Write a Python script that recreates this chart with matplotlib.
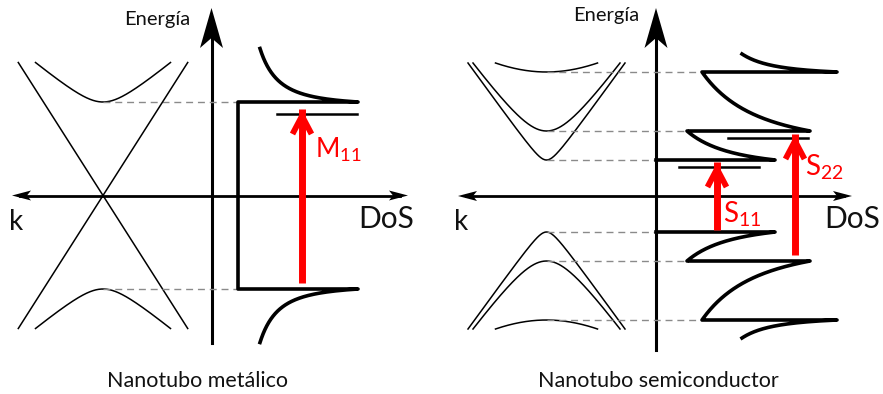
import numpy as np
import matplotlib.pyplot as plt

plt.rcParams['font.family'] = ['Lato', 'DejaVu Sans']
plt.rcParams['mathtext.fontset'] = 'custom'
plt.rcParams['mathtext.rm'] = 'Lato'

# schematic geometry, in pixels of the 883x394 canvas (y grows downwards)
# ---- metallic tube (left) ----
met_axis_x = 211.5          # energy axis
met_zero_y = 195.5          # E = 0 (k / DoS axis)
met_k0 = 103                # k of the Dirac point
met_k_range = (12, 408)     # horizontal axis extent
met_top = 343               # energy axis bottom end
met_band_e = 133            # |E| where the drawn bands stop
met_cone_slope = 1.57       # slope of the linear bands
met_sub_e = 93.5            # |E| of first subband edge (M11)
met_sub_a = 20              # hyperbola roundness of subband
met_sub_dx = 67.5           # half width of subband at met_band_e
met_dos_flat_x = 238        # constant metallic DoS
met_dos_peak_x = 358        # van Hove peak end
met_dos_tail = (260, 147)   # tail end (x, |E|)
met_m11_line = (277, 357, 81.5)   # x0, x1, |E| of the thin level line
met_arrow = (302, -87, 80.5)      # x, E start, E tip
met_label = (315, 38.5)

# ---- semiconducting tube (right) ----
sc_axis_x = 656
sc_zero_y = 196
sc_k_range = (458, 852)
sc_top = 350
sc_kc = 546.5               # k of band extrema
sc_band_e = 133
sc_levels = [36, 65, 124]   # |E| of subband edges
sc_round = [12, 41.6, 100]  # hyperbola roundness
sc_dx = [78.5, 73.5, 51]    # half width at sc_band_e
sc_dos_start = [656, 687, 702]
sc_dos_peak = [775, 810, 837]
sc_dos_tail = (742, 142)
sc_lines = [(679, 759, 29), (728, 808, 58)]        # x0, x1, E
sc_arrows = [(717, -34, 28), (795, -59, 56)]       # x, E start, E tip
sc_labels = [(723, -26, '11'), (805, 21, '22')]    # x, E baseline, index

fig = plt.figure(figsize=(8.83, 3.94), dpi=100)
ax = fig.add_axes([0, 0, 1, 1])
ax.set_xlim(0, 883)
ax.set_ylim(394, 0)
ax.axis('off')

thin = 1.1
thick = 2.6
gray = '#8a8a8a'


def head(tip, d, L, W, notch):
    d = np.array(d, float)
    p = np.array([-d[1], d[0]])
    tip = np.array(tip, float)
    pts = [tip, tip - d * L + p * W / 2, tip - d * (L - notch), tip - d * L - p * W / 2]
    pts = np.array(pts)
    ax.fill(pts[:, 0], pts[:, 1], color='k', lw=0)


def axes_arrows(x_axis, y0, bottom, krange):
    ax.plot([x_axis, x_axis], [bottom, 30], color='k', lw=2.2)
    head((x_axis, 8), (0, -1), 40, 23, 10)
    ax.plot([krange[0] + 8, krange[1] - 8], [y0, y0], color='k', lw=2.0)
    head((krange[0], y0), (-1, 0), 19, 10, 4)
    head((krange[1], y0), (1, 0), 19, 10, 4)


def tail(xp, ep, xe, ee, b):
    t = np.linspace(0, 1, 200)
    g = (1 / np.sqrt(t + b) - 1 / np.sqrt(1 + b)) / (1 / np.sqrt(b) - 1 / np.sqrt(1 + b))
    return xe + (xp - xe) * g, ep + (ee - ep) * t


def hyper(kc, e0, a, dx, etop):
    s = np.sqrt((etop - e0 + a) ** 2 - a ** 2) / dx
    x = np.linspace(-dx, dx, 300)
    return kc + x, e0 + np.sqrt(a ** 2 + (s * x) ** 2) - a


def red_arrow(x, e0, e1, zero):
    ax.plot([x, x], [zero - e0, zero - e1 - 6], color='red', lw=5, solid_capstyle='butt')
    ax.plot([x - 9.5, x, x + 9.5], [zero - e1 + 19, zero - e1 + 1, zero - e1 + 19],
            color='red', lw=4.2, solid_joinstyle='miter', solid_capstyle='butt')


# ---------- metallic ----------
axes_arrows(met_axis_x, met_zero_y, met_top, met_k_range)
dxc = met_band_e / met_cone_slope
for sgn in (1, -1):
    ax.plot([met_k0 - dxc, met_k0 + dxc],
            [met_zero_y - sgn * met_band_e, met_zero_y + sgn * met_band_e], color='k', lw=thin)
    hx, he = hyper(met_k0, met_sub_e, met_sub_a, met_sub_dx, met_band_e)
    ax.plot(hx, met_zero_y - sgn * he, color='k', lw=thin)
    ax.plot([met_k0, met_dos_flat_x], [met_zero_y - sgn * met_sub_e] * 2,
            color=gray, lw=1, dashes=(5, 3.5))

tx, te = tail(met_dos_peak_x, met_sub_e, met_dos_tail[0], met_dos_tail[1], 0.08)
xs = np.concatenate([tx[::-1], [met_dos_peak_x, met_dos_flat_x, met_dos_flat_x, met_dos_peak_x], tx])
es = np.concatenate([te[::-1], [met_sub_e, met_sub_e, -met_sub_e, -met_sub_e], -te])
ax.plot(xs, met_zero_y - es, color='k', lw=thick, solid_joinstyle='round')
ax.plot(met_m11_line[:2], [met_zero_y - met_m11_line[2]] * 2, color='k', lw=1.8)
red_arrow(met_arrow[0], met_arrow[1], met_arrow[2], met_zero_y)
ax.text(met_label[0], met_zero_y - met_label[1], r'M$_{\mathrm{11}}$', color='red',
        fontsize=19, ha='left', va='baseline')

# ---------- semiconducting ----------
axes_arrows(sc_axis_x, sc_zero_y, sc_top, sc_k_range)
for sgn in (1, -1):
    for e0, a, dx, xs0 in zip(sc_levels, sc_round, sc_dx, sc_dos_start):
        hx, he = hyper(sc_kc, e0, a, dx, sc_band_e)
        ax.plot(hx, sc_zero_y - sgn * he, color='k', lw=thin)
        ax.plot([sc_kc, xs0], [sc_zero_y - sgn * e0] * 2, color=gray, lw=1, dashes=(5, 3.5))
    px, pe = [], []
    ends_x = sc_dos_start[1:] + [sc_dos_tail[0]]
    ends_e = sc_levels[1:] + [sc_dos_tail[1]]
    for i in range(3):
        px += [sc_dos_start[i], sc_dos_peak[i]]
        pe += [sc_levels[i], sc_levels[i]]
        b = 0.35 if i < 2 else 0.2
        tx, te = tail(sc_dos_peak[i], sc_levels[i], ends_x[i], ends_e[i], b)
        px += list(tx)
        pe += list(te)
    ax.plot(px, sc_zero_y - sgn * np.array(pe), color='k', lw=thick, solid_joinstyle='round')

for x0, x1, e in sc_lines:
    ax.plot([x0, x1], [sc_zero_y - e] * 2, color='k', lw=1.8)
for x, e0, e1 in sc_arrows:
    red_arrow(x, e0, e1, sc_zero_y)
for x, e, idx in sc_labels:
    ax.text(x, sc_zero_y - e, r'S$_{\mathrm{%s}}$' % idx, color='red', fontsize=20,
            ha='left', va='baseline')

# ---------- texts ----------
for x, y, s, fs in [(124, 25, 'Energía', 14.5), (573, 21, 'Energía', 14.5),
                    (9, 230, 'k', 20), (454, 230, 'k', 20),
                    (358, 228, 'DoS', 21.5), (824, 228, 'DoS', 21.5),
                    (107, 387, 'Nanotubo metálico', 15.5),
                    (538, 387, 'Nanotubo semiconductor', 15.5)]:
    ax.text(x, y, s, fontsize=fs, ha='left', va='baseline', color='#111111')

fig.savefig('out.png', dpi=100)
